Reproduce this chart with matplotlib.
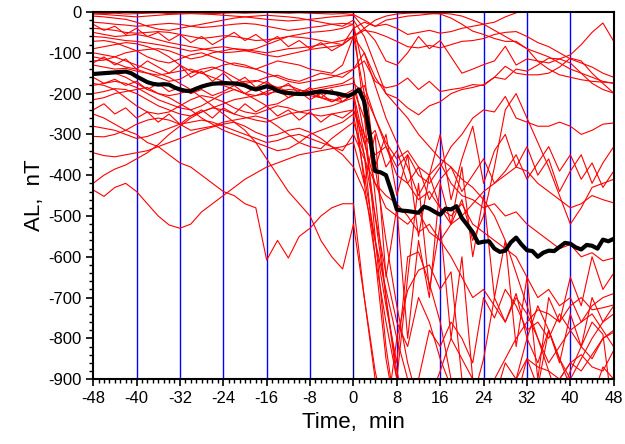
import matplotlib
matplotlib.use('Agg')
import matplotlib.pyplot as plt
import numpy as np
from matplotlib.ticker import MultipleLocator

plt.rcParams['font.family'] = ['Liberation Sans', 'DejaVu Sans']
plt.rcParams['axes.unicode_minus'] = False

# time axis of the individual events (min, 2-min steps) and of the mean (1-min steps)
minutes = np.arange(-48, 49, 2)
mean_minutes = np.arange(-48, 49, 1)

# individual AL events, nT (values below -900 run off the chart)
events = [
    [-3, -4, -3, -5, -4, -3, -2, -4, -3, -2, -3, -4, -3, -2, -3, -2, -1, -2, -3, -2, -3,
     -4, -5, -4, -6, -20, -35, -30, -40, -55, -50, -45, -52, -48, -40, -35, -30, -25,
     -12, -2, 5, 10, 12, 15, 15, 12, 10, 8, 5],
    [-25, -27, -30, -32, -35, -33, -30, -28, -30, -35, -38, -36, -33, -30, -28, -30, -35,
     -40, -45, -42, -38, -35, -30, -28, -30, -150, -380, -560, -720, -860, -960, -1000,
     -1000, -1000, -1000, -1000, -1000, -1000, -1000, -1000, -1000, -1000, -1000, -950,
     -880, -820, -850, -800, -780],
    [-60, -62, -66, -70, -72, -76, -80, -85, -90, -96, -92, -88, -85, -90, -95, -100, -106,
     -110, -104, -98, -92, -88, -85, -80, -40, -25, -35, -20, -15, -10, -8, -5, -3, -5,
     -10, -20, -30, -45, -60, -75, -90, -100, -110, -125, -140, -150, -160, -170, -175],
    [-72, -70, -75, -85, -95, -110, -120, -125, -115, -105, -100, -110, -120, -130, -135,
     -140, -130, -120, -125, -130, -140, -145, -150, -130, -60, -40, -70, -120, -130, -100,
     -60, -90, -70, -110, -150, -140, -129, -120, -84, -130, -115, -120, -125, -115, -105,
     -80, -50, -27, -72],
    [-120, -118, -110, -100, -95, -92, -90, -95, -105, -115, -110, -100, -95, -90, -92,
     -96, -100, -95, -90, -88, -85, -80, -75, -70, -60, -45, -50, -60, -72, -85, -88, -82,
     -88, -80, -72, -70, -65, -55, -50, -48, -60, -75, -85, -100, -115, -125, -135, -150,
     -160],
    [-130, -135, -140, -138, -145, -150, -160, -170, -165, -150, -140, -135, -145, -160,
     -175, -170, -160, -155, -165, -170, -160, -150, -155, -160, -140, -120, -170, -186,
     -180, -162, -190, -170, -195, -190, -186, -178, -180, -160, -165, -140, -145, -130,
     -113, -115, -125, -150, -175, -190, -199],
    [-180, -175, -170, -175, -185, -200, -215, -225, -235, -240, -230, -215, -200, -190,
     -200, -215, -230, -225, -210, -200, -190, -185, -180, -175, -160, -300, -500, -700,
     -880, -990, -1000, -1000, -1000, -1000, -1000, -1000, -1000, -1000, -960, -900, -850,
     -870, -880, -900, -860, -840, -870, -880, -829],
    [-200, -195, -188, -190, -200, -215, -230, -240, -250, -255, -245, -235, -240, -250,
     -258, -265, -270, -260, -250, -245, -240, -235, -230, -220, -200, -180, -260, -320,
     -360, -340, -380, -400, -370, -420, -450, -460, -480, -470, -500, -490, -520, -540,
     -560, -580, -570, -600, -590, -610, -603],
    [-305, -306, -300, -290, -275, -265, -260, -265, -275, -290, -285, -280, -270, -265,
     -260, -255, -262, -280, -300, -320, -330, -335, -310, -290, -270, -350, -500, -640,
     -760, -820, -700, -760, -850, -920, -1000, -1000, -960, -900, -850, -800, -760, -730,
     -740, -760, -720, -700, -730, -725, -718],
    [-345, -352, -355, -350, -345, -340, -330, -320, -310, -300, -290, -282, -275, -270,
     -280, -295, -305, -300, -290, -285, -295, -310, -330, -350, -380, -440, -560, -680,
     -800, -900, -1000, -1000, -1000, -1000, -1000, -1000, -1000, -1000, -1000, -1000,
     -1000, -1000, -960, -900, -860, -880, -840, -800, -785],
    [-420, -400, -385, -375, -360, -345, -325, -300, -280, -260, -245, -235, -225, -215,
     -210, -205, -200, -195, -190, -192, -195, -190, -185, -180, -175, -200, -260, -330,
     -400, -420, -460, -440, -480, -500, -470, -520, -540, -560, -580, -600, -650, -700,
     -680, -720, -700, -760, -740, -780, -821],
    [-436, -452, -430, -420, -440, -470, -500, -522, -530, -520, -490, -470, -450, -430,
     -410, -395, -380, -370, -360, -350, -345, -340, -335, -330, -320, -420, -600, -760,
     -900, -1000, -1000, -950, -880, -800, -850, -900, -1000, -1000, -1000, -1000, -1000,
     -1000, -1000, -1000, -1000, -1000, -1000, -1000, -1000],
    [-250, -260, -275, -290, -300, -320, -330, -350, -370, -380, -400, -420, -440, -450,
     -470, -480, -608, -560, -603, -550, -530, -500, -480, -470, -470, -700, -900, -1000,
     -1000, -1000, -1000, -1000, -1000, -1000, -1000, -950, -850, -700, -760, -690, -800,
     -720, -780, -850, -920, -1000, -1000, -1000, -1000],
    [-100, -105, -110, -120, -130, -140, -150, -160, -175, -190, -210, -230, -250, -270,
     -290, -320, -360, -400, -440, -470, -500, -560, -600, -630, -520, -700, -880, -1000,
     -800, -682, -633, -620, -680, -637, -900, -1000, -1000, -1000, -1000, -1000, -1000,
     -1000, -1000, -950, -900, -850, -800, -760, -740],
    [-175, -180, -190, -210, -230, -245, -250, -245, -230, -215, -205, -210, -220, -235,
     -245, -250, -240, -230, -235, -245, -250, -255, -250, -245, -240, -300, -350, -330,
     -380, -350, -400, -420, -380, -330, -300, -260, -240, -245, -207, -260, -270, -280,
     -280, -270, -280, -300, -290, -275, -272],
    [-50, -55, -60, -58, -55, -60, -68, -75, -80, -85, -90, -95, -100, -98, -95, -90, -80,
     -70, -60, -55, -50, -48, -45, -40, -30, -250, -550, -820, -1000, -1000, -1000, -1000,
     -1000, -1000, -1000, -1000, -1000, -950, -860, -900, -800, -860, -780, -850, -900,
     -1000, -1000, -1000, -1000],
    [-10, -12, -15, -18, -25, -35, -42, -45, -40, -35, -30, -25, -20, -15, -12, -10, -8,
     -10, -12, -15, -20, -25, -30, -35, -20, -60, -130, -200, -230, -260, -300, -330, -360,
     -380, -410, -430, -460, -500, -560, -640, -720, -800, -880, -960, -1000, -1000, -1000,
     -1000, -1000],
    [-90, -85, -80, -75, -78, -85, -95, -110, -130, -145, -150, -140, -130, -125, -130,
     -140, -150, -160, -170, -175, -170, -165, -160, -150, -140, -100, -160, -200, -211,
     -235, -252, -230, -220, -200, -190, -185, -178, -160, -133, -150, -154, -154, -150,
     -135, -113, -120, -150, -175, -199],
    [-215, -210, -200, -195, -190, -185, -200, -210, -225, -240, -260, -275, -290, -300,
     -310, -320, -330, -340, -335, -320, -300, -290, -280, -270, -250, -400, -560, -720,
     -860, -600, -588, -665, -760, -900, -1000, -1000, -1000, -1000, -1000, -1000, -1000,
     -1000, -1000, -1000, -1000, -1000, -950, -870, -900],
    [-40, -42, -45, -50, -52, -50, -48, -50, -55, -60, -65, -62, -58, -60, -65, -70, -68,
     -65, -60, -62, -65, -70, -75, -80, -60, -100, -180, -260, -320, -380, -450, -400,
     -480, -520, -460, -560, -500, -380, -240, -200, -260, -320, -380, -450, -520, -480,
     -430, -420, -410],
    [-150, -148, -150, -160, -175, -190, -200, -205, -200, -190, -180, -175, -180, -190,
     -200, -205, -195, -185, -180, -190, -200, -210, -220, -210, -200, -320, -420, -450,
     -470, -500, -540, -520, -560, -600, -650, -700, -680, -720, -760, -700, -740, -800,
     -860, -820, -780, -760, -720, -700, -690],
    [-110, -115, -125, -135, -140, -150, -155, -150, -145, -140, -150, -160, -170, -175,
     -170, -168, -175, -185, -195, -200, -205, -210, -215, -220, -210, -350, -600, -850,
     -1000, -1000, -900, -780, -820, -760, -800, -860, -700, -750, -680, -720, -780, -760,
     -800, -740, -780, -820, -760, -790, -1000],
    [-280, -285, -290, -300, -310, -305, -295, -285, -275, -270, -265, -270, -280, -290,
     -300, -310, -320, -315, -305, -300, -310, -320, -330, -340, -300, -360, -420, -480,
     -500, -520, -490, -540, -560, -520, -500, -470, -440, -420, -400, -380, -390, -420,
     -440, -460, -480, -470, -450, -460, -468],
    [-5, -6, -8, -10, -12, -10, -8, -6, -5, -4, -5, -6, -8, -10, -12, -15, -18, -20, -22,
     -20, -18, -15, -12, -10, -8, -40, -20, -10, -5, -3, -2, -3, -5, -15, -30, -47, -55,
     -65, -72, -72, -90, -121, -140, -154, -160, -166, -170, -172, -174],
    [-125, -110, -130, -115, -140, -120, -135, -150, -130, -160, -145, -170, -150, -175,
     -160, -185, -170, -190, -175, -200, -185, -210, -190, -220, -200, -420, -300, -650,
     -480, -800, -560, -700, -420, -520, -380, -600, -450, -700, -560, -820, -650, -900,
     -700, -760, -650, -720, -600, -680, -640],
    [-240, -225, -250, -235, -260, -245, -270, -250, -275, -255, -240, -260, -235, -250,
     -225, -245, -230, -255, -240, -265, -245, -270, -250, -260, -240, -320, -290, -380,
     -340, -420, -380, -460, -410, -380, -440, -400, -360, -420, -390, -350, -410, -370,
     -330, -390, -350, -410, -370, -430, -390],
    [-30, -45, -35, -55, -40, -60, -50, -70, -55, -75, -60, -80, -65, -50, -70, -55, -75,
     -60, -85, -70, -90, -75, -95, -80, -60, -200, -450, -700, -900, -650, -420, -680,
     -520, -800, -600, -900, -1000, -1000, -1000, -950, -850, -920, -780, -860, -740,
     -820, -700, -760, -720],
    [-160, -175, -165, -180, -170, -190, -175, -195, -185, -200, -190, -205, -195, -180,
     -200, -185, -205, -190, -210, -195, -215, -200, -220, -205, -190, -260, -380, -300,
     -450, -350, -550, -400, -300, -460, -360, -280, -420, -340, -300, -380, -330, -400,
     -360, -440, -390, -350, -420, -370, -330],
]

# superposed-epoch mean AL, nT
mean_al = [-152, -151, -150, -149, -148, -147, -146, -150, -158, -165, -172, -176, -178,
           -177, -178, -185, -190, -193, -194, -188, -183, -179, -176, -175, -174, -175,
           -175, -177, -180, -186, -190, -186, -182, -186, -193, -197, -199, -200, -201,
           -201, -199, -197, -195, -196, -198, -200, -203, -206, -200, -190, -220, -300,
           -390, -393, -400, -440, -484, -487, -488, -490, -492, -477, -482, -490, -497,
           -482, -484, -476, -505, -522, -540, -566, -563, -562, -580, -588, -585, -565,
           -553, -570, -584, -586, -600, -590, -585, -586, -576, -566, -568, -577, -582,
           -571, -573, -580, -558, -562, -556]

fig = plt.figure(figsize=(6.25, 4.44), dpi=100)
ax = fig.add_axes([0.149, 0.146, 0.833, 0.827])

for v in events:
    ax.plot(minutes, v, color='red', lw=0.8, zorder=2)

for t in range(-40, 49, 8):
    ax.axvline(t, color='#000080' if t == 0 else 'blue', lw=1.0, zorder=1)

ax.plot(mean_minutes, mean_al, color='black', lw=3, zorder=3)

ax.set_xlim(-48, 48)
ax.set_ylim(-900, 0)
ax.xaxis.set_major_locator(MultipleLocator(8))
ax.xaxis.set_minor_locator(MultipleLocator(1))
ax.yaxis.set_major_locator(MultipleLocator(100))
ax.yaxis.set_minor_locator(MultipleLocator(20))
ax.tick_params(which='major', direction='out', length=5, width=1.2, labelsize=12)
ax.tick_params(which='minor', direction='out', length=3, width=1.0)
for s in ax.spines.values():
    s.set_linewidth(1.5)

ax.set_xlabel('Time,  min', fontsize=16)
ax.set_ylabel('AL,  nT', fontsize=16, labelpad=2)

fig.savefig('out.png', dpi=100)
